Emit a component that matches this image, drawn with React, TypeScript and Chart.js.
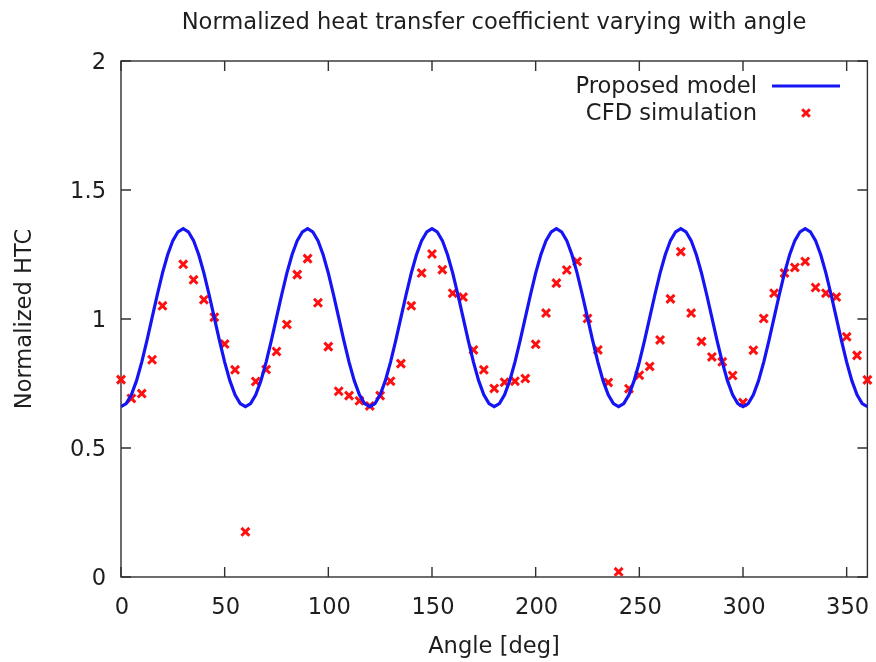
import React, { useEffect, useRef } from "react";
import { Chart, registerables } from "chart.js";

Chart.register(...registerables);

const chartTitle = "Normalized heat transfer coefficient varying with angle";
const xAxisTitle = "Angle [deg]";
const yAxisTitle = "Normalized HTC";
const modelLabel = "Proposed model";
const cfdLabel = "CFD simulation";

const xTicks = [0, 50, 100, 150, 200, 250, 300, 350];
const yTicks = [0, 0.5, 1, 1.5, 2];
const yTickLabels = ["0", "0.5", "1", "1.5", "2"];

const modelAngles = [
  0, 2.5, 5, 7.5, 10, 12.5, 15, 17.5, 20, 22.5, 25, 27.5, 30, 32.5, 35, 37.5, 40, 42.5, 45, 47.5, 50, 52.5, 55, 57.5,
  60, 62.5, 65, 67.5, 70, 72.5, 75, 77.5, 80, 82.5, 85, 87.5, 90, 92.5, 95, 97.5, 100, 102.5, 105, 107.5, 110, 112.5, 115, 117.5,
  120, 122.5, 125, 127.5, 130, 132.5, 135, 137.5, 140, 142.5, 145, 147.5, 150, 152.5, 155, 157.5, 160, 162.5, 165, 167.5, 170, 172.5, 175, 177.5,
  180, 182.5, 185, 187.5, 190, 192.5, 195, 197.5, 200, 202.5, 205, 207.5, 210, 212.5, 215, 217.5, 220, 222.5, 225, 227.5, 230, 232.5, 235, 237.5,
  240, 242.5, 245, 247.5, 250, 252.5, 255, 257.5, 260, 262.5, 265, 267.5, 270, 272.5, 275, 277.5, 280, 282.5, 285, 287.5, 290, 292.5, 295, 297.5,
  300, 302.5, 305, 307.5, 310, 312.5, 315, 317.5, 320, 322.5, 325, 327.5, 330, 332.5, 335, 337.5, 340, 342.5, 345, 347.5, 350, 352.5, 355, 357.5,
  360,
];
const modelValues = [
  0.660, 0.672, 0.706, 0.761, 0.833, 0.916, 1.005, 1.094, 1.178, 1.249, 1.304, 1.338, 1.350, 1.338, 1.304, 1.249, 1.178, 1.094, 1.005, 0.916, 0.833, 0.761, 0.706, 0.672,
  0.660, 0.672, 0.706, 0.761, 0.833, 0.916, 1.005, 1.094, 1.178, 1.249, 1.304, 1.338, 1.350, 1.338, 1.304, 1.249, 1.178, 1.094, 1.005, 0.916, 0.833, 0.761, 0.706, 0.672,
  0.660, 0.672, 0.706, 0.761, 0.833, 0.916, 1.005, 1.094, 1.178, 1.249, 1.304, 1.338, 1.350, 1.338, 1.304, 1.249, 1.178, 1.094, 1.005, 0.916, 0.833, 0.761, 0.706, 0.672,
  0.660, 0.672, 0.706, 0.761, 0.833, 0.916, 1.005, 1.094, 1.178, 1.249, 1.304, 1.338, 1.350, 1.338, 1.304, 1.249, 1.178, 1.094, 1.005, 0.916, 0.833, 0.761, 0.706, 0.672,
  0.660, 0.672, 0.706, 0.761, 0.833, 0.916, 1.005, 1.094, 1.178, 1.249, 1.304, 1.338, 1.350, 1.338, 1.304, 1.249, 1.178, 1.094, 1.005, 0.916, 0.833, 0.761, 0.706, 0.672,
  0.660, 0.672, 0.706, 0.761, 0.833, 0.916, 1.005, 1.094, 1.178, 1.249, 1.304, 1.338, 1.350, 1.338, 1.304, 1.249, 1.178, 1.094, 1.005, 0.916, 0.833, 0.761, 0.706, 0.672,
  0.660,
];

const cfdAngles = [
  0, 5, 10, 15, 20, 30, 35, 40, 45, 50, 55, 60, 65, 70, 75, 80, 85, 90, 95, 100, 105, 110, 115, 120,
  125, 130, 135, 140, 145, 150, 155, 160, 165, 170, 175, 180, 185, 190, 195, 200, 205, 210, 215, 220,
  225, 230, 235, 240, 245, 250, 255, 260, 265, 270, 275, 280, 285, 290, 295, 300, 305, 310, 315, 320,
  325, 330, 335, 340, 345, 350, 355, 360,
];
const cfdValues = [
  0.765, 0.692, 0.711, 0.842, 1.051, 1.212, 1.152, 1.075, 1.007, 0.903, 0.803, 0.175, 0.758, 0.804, 0.874, 0.979, 1.172, 1.234, 1.063, 0.893, 0.72, 0.703, 0.683, 0.663,
  0.703, 0.759, 0.827, 1.051, 1.178, 1.252, 1.191, 1.10, 1.085, 0.88, 0.803, 0.731, 0.755, 0.759, 0.769, 0.902, 1.023, 1.139, 1.19, 1.223,
  1.002, 0.88, 0.754, 0.02, 0.73, 0.782, 0.816, 0.919, 1.078, 1.261, 1.023, 0.913, 0.853, 0.834, 0.781, 0.676, 0.879, 1.002, 1.10, 1.178,
  1.20, 1.223, 1.122, 1.10, 1.085, 0.931, 0.859, 0.764,
];

const BLUE = "#1414f5";
const RED = "#ff1010";
const INK = "#1e1e1e";
const FONT = '22.6px "DejaVu Sans", sans-serif';

const gnuplotDecor = {
  id: "gnuplotDecor",
  beforeDatasetsDraw(chart: any) {
    const { ctx, chartArea } = chart;
    const { left, right, top, bottom } = chartArea;
    const xs = chart.scales.x;
    const ys = chart.scales.y;
    ctx.save();
    ctx.strokeStyle = "#303030";
    ctx.lineWidth = 1.4;
    ctx.strokeRect(left, top, right - left, bottom - top);
    const tl = 10;
    ctx.beginPath();
    xTicks.forEach((v) => {
      const px = xs.getPixelForValue(v);
      ctx.moveTo(px, bottom);
      ctx.lineTo(px, bottom - tl);
      ctx.moveTo(px, top);
      ctx.lineTo(px, top + tl);
    });
    yTicks.forEach((v) => {
      const py = ys.getPixelForValue(v);
      ctx.moveTo(left, py);
      ctx.lineTo(left + tl, py);
      ctx.moveTo(right, py);
      ctx.lineTo(right - tl, py);
    });
    ctx.stroke();

    ctx.fillStyle = INK;
    ctx.font = FONT;
    ctx.textBaseline = "alphabetic";
    ctx.textAlign = "center";
    xTicks.forEach((v) => {
      ctx.fillText(String(v), xs.getPixelForValue(v) + 1, 614);
    });
    ctx.textAlign = "right";
    yTicks.forEach((v, i) => {
      ctx.fillText(yTickLabels[i], 106, ys.getPixelForValue(v) + 8);
    });
    ctx.restore();
  },
  afterDraw(chart: any) {
    const { ctx, chartArea } = chart;
    ctx.save();
    ctx.fillStyle = INK;
    ctx.font = FONT;
    ctx.textBaseline = "alphabetic";
    ctx.textAlign = "center";
    ctx.fillText(chartTitle, 494, 29);
    ctx.fillText(xAxisTitle, 494, 653);
    ctx.save();
    ctx.translate(31, (chartArea.top + chartArea.bottom) / 2);
    ctx.rotate(-Math.PI / 2);
    ctx.fillText(yAxisTitle, 0, 0);
    ctx.restore();

    // legend
    ctx.textAlign = "right";
    ctx.fillText(modelLabel, 757, 93);
    ctx.fillText(cfdLabel, 757, 120);
    ctx.strokeStyle = BLUE;
    ctx.lineWidth = 3;
    ctx.beginPath();
    ctx.moveTo(772, 86);
    ctx.lineTo(840, 86);
    ctx.stroke();
    ctx.strokeStyle = RED;
    ctx.lineWidth = 3;
    const r = 3.8;
    ctx.beginPath();
    ctx.moveTo(806 - r, 113 - r);
    ctx.lineTo(806 + r, 113 + r);
    ctx.moveTo(806 - r, 113 + r);
    ctx.lineTo(806 + r, 113 - r);
    ctx.stroke();
    ctx.restore();
  },
};

export default function App() {
  const canvasRef = useRef<HTMLCanvasElement | null>(null);

  useEffect(() => {
    if (!canvasRef.current) return;
    const chart = new Chart(canvasRef.current, {
      type: "scatter",
      data: {
        datasets: [
          {
            label: modelLabel,
            data: modelAngles.map((a, i) => ({ x: a, y: modelValues[i] })),
            showLine: true,
            borderColor: BLUE,
            borderWidth: 3.2,
            pointRadius: 0,
            tension: 0,
          },
          {
            label: cfdLabel,
            data: cfdAngles.map((a, i) => ({ x: a, y: cfdValues[i] })),
            showLine: false,
            pointStyle: "crossRot",
            pointRadius: 5.6,
            borderColor: RED,
            backgroundColor: RED,
            pointBorderWidth: 3,
            clip: false,
          } as any,
        ],
      },
      options: {
        responsive: false,
        animation: false,
        events: [],
        layout: { padding: { left: 121, top: 61, right: 5, bottom: 85 } },
        plugins: {
          legend: { display: false },
          title: { display: false },
          tooltip: { enabled: false },
        },
        scales: {
          x: { type: "linear", min: 0, max: 360, display: false },
          y: { type: "linear", min: 0, max: 2, display: false },
        },
      },
      plugins: [gnuplotDecor],
    });
    return () => chart.destroy();
  }, []);

  return (
    <div style={{ position: "absolute", left: 0, top: 0, width: 876, height: 662, background: "#fff" }}>
      <canvas ref={canvasRef} width={876} height={662} style={{ display: "block" }} />
    </div>
  );
}
